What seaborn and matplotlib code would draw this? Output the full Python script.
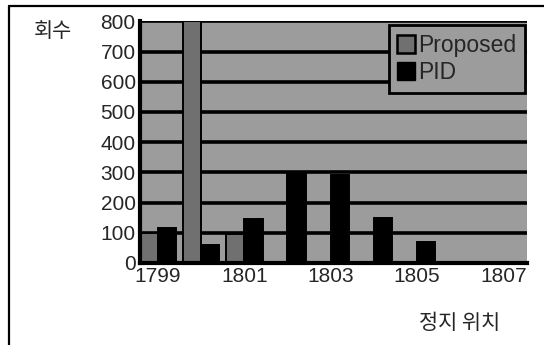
import matplotlib
matplotlib.use("Agg")
import matplotlib.pyplot as plt
import matplotlib.lines as mlines
import seaborn as sns
import pandas as pd

# Stop positions and the number of stops recorded at each one
positions = ["1799", "1800", "1801", "1802", "1803", "1804", "1805", "1806", "1807"]
proposed = [100, 800, 95, 0, 0, 0, 0, 0, 0]
pid = [115, 60, 145, 300, 290, 150, 70, 0, 0]
series_names = ["Proposed", "PID"]
y_ticks = [0, 100, 200, 300, 400, 500, 600, 700, 800]
shown_ticks = ["1799", "1801", "1803", "1805", "1807"]

df = pd.DataFrame({
    "pos": positions * 2,
    "count": proposed + pid,
    "series": [series_names[0]] * len(positions) + [series_names[1]] * len(positions),
})

sns.set_theme(style="white")
plt.rcParams["font.family"] = ["Liberation Sans", "Noto Sans CJK KR", "DejaVu Sans"]

fig = plt.figure(figsize=(5.44, 3.45), dpi=100)
ax = fig.add_axes([0.257, 0.238, 0.712, 0.700])

bg = "#9c9c9c"
palette = {"Proposed": "#707070", "PID": "#000000"}
ax.set_facecolor(bg)

sns.barplot(data=df, x="pos", y="count", hue="series", palette=palette,
            order=positions, hue_order=series_names, width=0.85,
            edgecolor="black", linewidth=1.4, saturation=1, ax=ax, legend=False)

ax.set_ylim(0, 800)
ax.set_xlim(-0.42, 8.55)
ax.set_yticks(y_ticks)
ax.set_yticklabels([str(v) for v in y_ticks], fontsize=15)
ax.set_xticks([positions.index(t) for t in shown_ticks])
ax.set_xticklabels(shown_ticks, fontsize=15)
ax.tick_params(axis="y", length=0, pad=3)
ax.tick_params(axis="x", length=0, pad=3)
ax.set_xlabel("")
ax.set_ylabel("")

ax.yaxis.grid(True, color="black", linewidth=2.6)
ax.set_axisbelow(True)
for side in ["top", "right"]:
    ax.spines[side].set_visible(False)
for side in ["left", "bottom"]:
    ax.spines[side].set_linewidth(3)
    ax.spines[side].set_color("black")

# Legend with square markers
handles = [
    mlines.Line2D([], [], marker="s", linestyle="none", markersize=13,
                  markerfacecolor=palette["Proposed"], markeredgecolor="black",
                  markeredgewidth=1.8, label="Proposed"),
    mlines.Line2D([], [], marker="s", linestyle="none", markersize=13,
                  markerfacecolor="black", markeredgecolor="black", label="PID"),
]
leg = ax.legend(handles=handles, loc="upper right", bbox_to_anchor=(0.995, 0.985),
                frameon=True, fontsize=16.5, handlelength=0.7, handletextpad=0.15,
                borderpad=0.4, labelspacing=0.15, borderaxespad=0.0,
                fancybox=False)
leg.get_frame().set_facecolor(bg)
leg.get_frame().set_edgecolor("black")
leg.get_frame().set_linewidth(2)
leg.get_frame().set_alpha(1)

# Axis titles
fig.text(0.098, 0.91, "회수", fontsize=15, family=["Noto Sans CJK KR", "DejaVu Sans"],
         ha="center", va="center")
fig.text(0.845, 0.064, "정지 위치", fontsize=15, family=["Noto Sans CJK KR", "DejaVu Sans"],
         ha="center", va="center")

# Outer frame: top and left rules
fig.add_artist(mlines.Line2D([0.016, 1.0], [0.983, 0.983], color="black",
                             linewidth=1.6, transform=fig.transFigure))
fig.add_artist(mlines.Line2D([0.016, 0.016], [0.0, 0.983], color="black",
                             linewidth=1.6, transform=fig.transFigure))

fig.savefig("out.png", dpi=100)
